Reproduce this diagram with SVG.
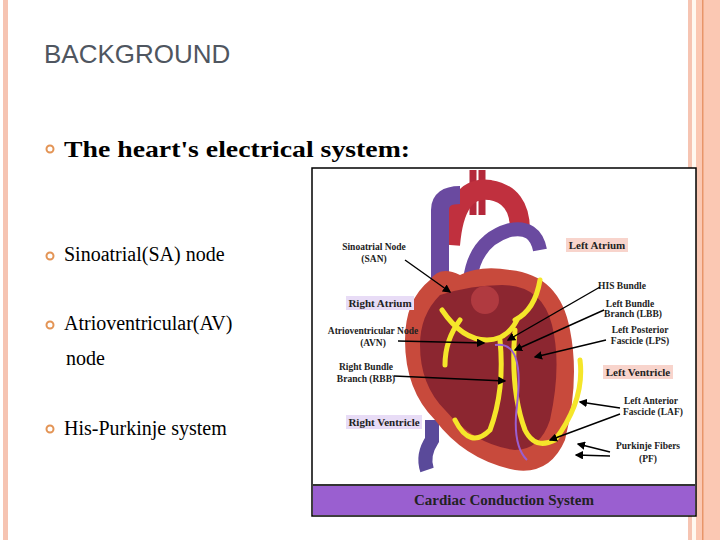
<svg xmlns="http://www.w3.org/2000/svg" width="720" height="540" viewBox="0 0 720 540">
<style>
.t{font-family:"Liberation Serif",serif;font-size:20px;fill:#000}
.b{fill:none;stroke:#e39455;stroke-width:2}
.l{font-family:"Liberation Serif",serif;font-size:9.5px;font-weight:bold;fill:#222}
.lb{font-family:"Liberation Serif",serif;font-size:11px;font-weight:bold;fill:#222}
.ar{stroke:#000;stroke-width:1.4;fill:none;marker-end:url(#a)}
.y{fill:none;stroke:#f5e62a;stroke-width:5;stroke-linecap:round}
</style>
<defs><marker id="a" markerWidth="6" markerHeight="6" refX="5" refY="3" orient="auto"><path d="M0,0L6,3L0,6z" fill="#000"/></marker></defs>
<rect width="720" height="540" fill="#fff"/>
<rect x="3" y="0" width="5" height="540" fill="#f6c4b2"/>
<rect x="688" y="0" width="4" height="540" fill="#f6c4b2"/>
<rect x="692" y="0" width="4" height="540" fill="#fff8f0"/>
<rect x="696" y="0" width="24" height="540" fill="#fbc8b3"/>
<rect x="702" y="0" width="1.5" height="540" fill="#e8956a"/>
<text x="44" y="63" style="font-family:'Liberation Sans',sans-serif;font-size:26px;fill:#4f5660">BACKGROUND</text>
<g id="bullets">
<circle cx="50" cy="149" r="3.5" class="b"/><text x="64" y="157" class="t" style="font-weight:bold;font-size:24px" textLength="346" lengthAdjust="spacingAndGlyphs">The heart's electrical system:</text>
<circle cx="50" cy="256" r="3.5" class="b"/><text x="64" y="261" class="t">Sinoatrial(SA) node</text>
<circle cx="50" cy="325" r="3.5" class="b"/><text x="64" y="330" class="t">Atrioventricular(AV)</text><text x="66" y="365" class="t">node</text>
<circle cx="50" cy="429" r="3.5" class="b"/><text x="64" y="435" class="t">His-Purkinje system</text>
</g>
<g id="image">
<rect x="312" y="168" width="384" height="348" fill="#fff" stroke="#000" stroke-width="1.5"/>
<rect x="313" y="484" width="382" height="31" fill="#9a5fd0"/>
<rect x="313" y="484" width="382" height="2" fill="#333"/>
<text x="504" y="505" text-anchor="middle" style="font-family:'Liberation Serif',serif;font-size:15px;font-weight:bold;fill:#222">Cardiac Conduction System</text>
<g id="heart">
<path d="M432,420 L432,440 q-10,15 -5,30" stroke="#5a4a9a" stroke-width="14" fill="none"/>
<path d="M473,170 L473,215 M482,170 L482,215" stroke="#b4283a" stroke-width="7"/>
<path d="M450,245 q5,-60 40,-55 q30,5 30,40" stroke="#c0303e" stroke-width="20" fill="none"/>
<path d="M440,290 L440,210 q0,-15 20,-15" stroke="#6a4aa0" stroke-width="18" fill="none"/>
<path d="M470,280 q5,-40 40,-50 q25,-5 30,20" stroke="#6a4aa0" stroke-width="14" fill="none"/>
<path d="M430,280 q-25,20 -25,60 q0,50 30,80 q30,40 80,50 q35,5 50,-30 q15,-60 5,-110 q-10,-55 -60,-60 q-30,-5 -50,5 q-20,-10 -30,5z" fill="#c84a3c"/>
<path d="M440,295 q-20,20 -20,50 q0,40 25,65 q30,35 70,40 q25,0 35,-30 q12,-55 2,-95 q-10,-40 -50,-40 q-30,0 -62,10z" fill="#8c2630"/>
<circle cx="485" cy="300" r="14" fill="#b03a40"/>
<path class="y" d="M442,310 q20,30 45,30 q20,0 30,-20"/>
<path class="y" d="M515,330 q-5,60 10,100 q10,20 30,10 q30,-40 25,-80"/>
<path class="y" d="M500,340 q5,50 -10,90 q-20,20 -35,-10"/>
<path class="y" d="M515,320 q20,-10 25,-40"/>
<path class="y" d="M460,320 q-15,20 -15,45"/>
<path d="M495,345 q30,-5 22,60 q-5,40 10,55" stroke="#9a5fd0" stroke-width="2" fill="none"/>
</g>
<rect x="566" y="238" width="62" height="14" fill="#f8d4cc"/><text x="597" y="249" text-anchor="middle" class="lb">Left Atrium</text>
<rect x="346" y="296" width="68" height="14" fill="#e8dcf6"/><text x="380" y="307" text-anchor="middle" class="lb">Right Atrium</text>
<rect x="603" y="365" width="70" height="14" fill="#f8d4cc"/><text x="638" y="376" text-anchor="middle" class="lb">Left Ventricle</text>
<rect x="346" y="415" width="76" height="14" fill="#e8dcf6"/><text x="384" y="426" text-anchor="middle" class="lb">Right Ventricle</text>
<text x="374" y="250" text-anchor="middle" class="l">Sinoatrial Node</text><text x="374" y="262" text-anchor="middle" class="l">(SAN)</text>
<text x="373" y="334" text-anchor="middle" class="l">Atrioventricular Node</text><text x="373" y="346" text-anchor="middle" class="l">(AVN)</text>
<text x="366" y="370" text-anchor="middle" class="l">Right Bundle</text><text x="366" y="382" text-anchor="middle" class="l">Branch (RBB)</text>
<text x="622" y="289" text-anchor="middle" class="l">HIS Bundle</text>
<text x="630" y="307" text-anchor="middle" class="l">Left Bundle</text><text x="633" y="317" text-anchor="middle" class="l">Branch (LBB)</text>
<text x="640" y="333" text-anchor="middle" class="l">Left Posterior</text><text x="640" y="344" text-anchor="middle" class="l">Fascicle (LPS)</text>
<text x="651" y="404" text-anchor="middle" class="l">Left Anterior</text><text x="653" y="415" text-anchor="middle" class="l">Fascicle (LAF)</text>
<text x="648" y="449" text-anchor="middle" class="l">Purkinje Fibers</text><text x="648" y="462" text-anchor="middle" class="l">(PF)</text>
</g>
<g id="connectors">
<path class="ar" d="M405,260 L450,292"/>
<path class="ar" d="M398,341 L484,343"/>
<path class="ar" d="M394,376 L505,381"/>
<path class="ar" d="M600,287 L508,340"/>
<path class="ar" d="M604,310 L515,350"/>
<path class="ar" d="M606,340 L535,357"/>
<path class="ar" d="M620,408 L580,402"/>
<path class="ar" d="M620,414 L550,440"/>
<path class="ar" d="M610,452 L578,444"/>
<path class="ar" d="M610,456 L576,455"/>
</g>
</svg>
